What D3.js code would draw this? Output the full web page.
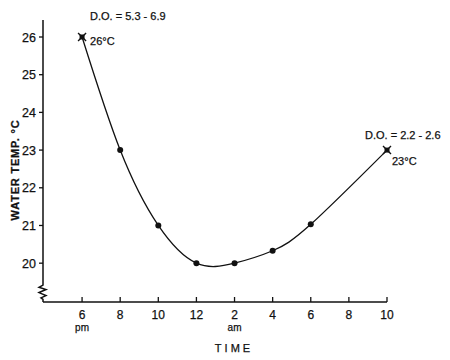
<!DOCTYPE html>
<html><head><meta charset="utf-8">
<script src="https://cdn.jsdelivr.net/npm/d3@7"></script>
<style>
body{margin:0;background:#fff;}
text{font-family:"Liberation Sans",Arial,sans-serif;fill:#111;stroke:#111;stroke-width:0.25;}
</style></head>
<body><svg id="c" width="450" height="360"></svg>
<script>
// hours after 6 pm
const hours = [0, 2, 4, 6, 8, 10, 12, 16];
const temps = [26, 23, 21, 20, 20, 20.33, 21.03, 23];
const markerTypes = ["x", "dot", "dot", "dot", "dot", "dot", "dot", "x"];
const tickHours = [0, 2, 4, 6, 8, 10, 12, 14, 16];
const tickLabels = ["6", "8", "10", "12", "2", "4", "6", "8", "10"];
const subLabels = ["pm", "", "", "", "am", "", "", "", ""];
const yTicks = [20, 21, 22, 23, 24, 25, 26];
const annotations = [
  {h: 0, t: 26, top: "D.O. = 5.3 - 6.9", side: "26\u00B0C"},
  {h: 16, t: 23, top: "D.O. = 2.2 - 2.6", side: "23\u00B0C"}
];

const svg = d3.select("#c");
const x = d3.scaleLinear().domain([-2.05, 16]).range([43, 387]);
const y = d3.scaleLinear().domain([18.97, 26]).range([302, 37]);

// x axis
const xAxis = svg.append("g").attr("transform", "translate(0,302)");
xAxis.append("line").attr("x1", 43).attr("x2", x(16)).attr("stroke", "#111").attr("stroke-width", 1.6);
xAxis.selectAll(".xt").data(tickHours).join("line")
  .attr("x1", d => x(d)).attr("x2", d => x(d)).attr("y1", 0).attr("y2", -5)
  .attr("stroke", "#111").attr("stroke-width", 1.3);
xAxis.selectAll(".xl").data(tickHours).join("text")
  .attr("x", d => x(d)).attr("y", 17).attr("text-anchor", "middle")
  .attr("font-size", 12).text((d, i) => tickLabels[i]);
xAxis.selectAll(".xs").data(tickHours).join("text")
  .attr("x", d => x(d)).attr("y", 29).attr("text-anchor", "middle")
  .attr("font-size", 10).text((d, i) => subLabels[i]);

// y axis with break
const yg = svg.append("g");
yg.append("path")
  .attr("d", `M43,20 L43,${y(19.42)} L39,${y(19.36)} L46,${y(19.3)} L39,${y(19.22)} L46,${y(19.14)} L41,${y(19.08)} L43,${y(19.04)} L43,302`)
  .attr("fill", "none").attr("stroke", "#111").attr("stroke-width", 1.5);
yg.selectAll(".yt").data(yTicks).join("line")
  .attr("x1", 39).attr("x2", 43).attr("y1", d => y(d)).attr("y2", d => y(d))
  .attr("stroke", "#111").attr("stroke-width", 1.3);
yg.selectAll(".yl").data(yTicks).join("text")
  .attr("x", 36).attr("y", d => y(d) + 4.5).attr("text-anchor", "end")
  .attr("font-size", 12.5).text(d => d);

// axis titles
svg.append("text").attr("transform", "translate(19,170) rotate(-90)")
  .attr("text-anchor", "middle").attr("font-size", 11).attr("font-weight", "bold")
  .attr("letter-spacing", 0.8).text("WATER  TEMP.  \u00B0C");
svg.append("text").attr("x", 234).attr("y", 352).attr("text-anchor", "middle")
  .attr("font-size", 11).attr("letter-spacing", 3).text("TIME");

// curve
const pts = hours.map((h, i) => [h, temps[i]]);
const line = d3.line().x(d => x(d[0])).y(d => y(d[1])).curve(d3.curveNatural);
svg.append("path").attr("d", line(pts)).attr("fill", "none")
  .attr("stroke", "#111").attr("stroke-width", 1.3);

// markers
pts.forEach((p, i) => {
  const cx = x(p[0]), cy = y(p[1]);
  if (markerTypes[i] === "dot") {
    svg.append("circle").attr("cx", cx).attr("cy", cy).attr("r", 3).attr("fill", "#111");
  } else {
    svg.append("rect").attr("x", cx - 2.5).attr("y", cy - 2.5).attr("width", 5).attr("height", 5).attr("fill", "#111");
    svg.append("path").attr("d", `M${cx-4},${cy-4}L${cx+4},${cy+4}M${cx-4},${cy+4}L${cx+4},${cy-4}`)
      .attr("stroke", "#111").attr("stroke-width", 1.4);
  }
});

// annotations
annotations.forEach(a => {
  const cx = x(a.h), cy = y(a.t);
  svg.append("text").attr("x", cx + (a.h === 0 ? 8 : -22)).attr("y", cy - (a.h === 0 ? 17 : 11))
    .attr("font-size", 11).text(a.top);
  svg.append("text").attr("x", cx + (a.h === 0 ? 8 : 5)).attr("y", cy + (a.h === 0 ? 8 : 15))
    .attr("font-size", 11).text(a.side);
});
</script></body></html>
